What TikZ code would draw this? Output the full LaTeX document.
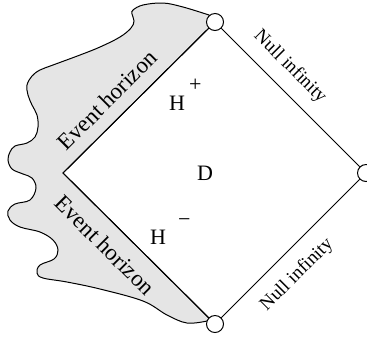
\documentclass[tikz,border=0pt]{standalone}
\usepackage{fontspec}
\setmainfont{Liberation Serif}
\usetikzlibrary{positioning}
\definecolor{horizonFill}{HTML}{E5E5E5}
\tikzset{
  every picture/.style={line width=0.5pt},
  end point/.style={circle, draw, fill=white, minimum size=8.5pt, inner sep=0pt, line width=0.5pt},
  horizon region/.style={fill=horizonFill, draw=black, line width=0.5pt},
  horizon label/.style={font=\fontsize{11.5}{13}\selectfont},
  null label/.style={font=\fontsize{9.5}{11}\selectfont},
  region label/.style={font=\fontsize{11}{13}\selectfont}
}

\begin{document}
\begin{tikzpicture}[x=0.5pt,y=-0.5pt]
  \useasboundingbox (0,0) rectangle (367,339);
  \coordinate (left) at (63,173);
  % shaded region behind the horizon
  \filldraw[horizon region] (215,22) -- plot[smooth, tension=0.6] coordinates {
    (209,15) (183,7) (163,3) (143,5) (133,10) (132,14) (134,21) (131,28) (120,37)
    (100,47) (80,55) (53,65) (40,70) (32,76) (27,85) (28,95) (32,105)
    (37,115) (38,127) (35,137) (27,143) (15,146) (10,152) (8,160) (12,169)
    (23,174) (32,178) (36,188) (30,200) (15,204) (8,211) (10,220) (20,227)
    (40,232) (53,240) (58,250) (54,259) (40,265) (37,273) (43,278) (67,282)
    (100,289) (143,301) (167,315) (187,323) (207,321)}
    -- (215,324) -- (left) -- cycle;
  % corners at infinity
  \node[end point] (top) at (215,22) {};
  \node[end point] (right) at (366,173) {};
  \node[end point] (bottom) at (215,324) {};
  \draw (top) -- (right);
  \draw (right) -- (bottom);
  \draw (top) -- (left) -- (bottom);
  % labels
  \node[horizon label, rotate=45] (ehUpper) at (107,100) {Event horizon};
  \node[horizon label, rotate=-45] (ehLower) at (105,245) {Event horizon};
  \node[null label, rotate=-45] (nullUpper) at (290,67) {Null infinity};
  \node[null label, rotate=45] (nullLower) at (297,275) {Null infinity};
  \node[region label] (domain) at (205,173) {D};
  \node[region label, anchor=base west] (hPlus) at (162,110) {H\hspace{2pt}\raisebox{9.5pt}{+}};
  \node[region label, anchor=base west] (hMinus) at (143,244) {H\hspace{6pt}\raisebox{9pt}{−}};
\end{tikzpicture}
\end{document}
